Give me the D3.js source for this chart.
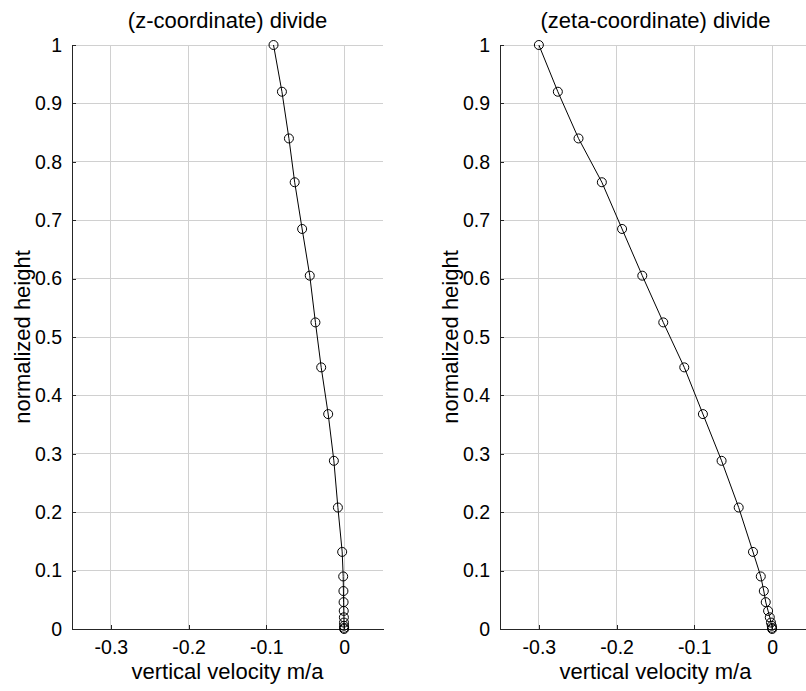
<!DOCTYPE html>
<html>
<head>
<meta charset="utf-8">
<script src="https://cdn.jsdelivr.net/npm/d3@7"></script>
<style>
  html, body { margin: 0; padding: 0; background: #fff; }
  svg { display: block; }
  text { font-family: "Liberation Sans", Arial, Helvetica, sans-serif; fill: #000; }
</style>
</head>
<body>
<svg id="chart" width="806" height="691"></svg>
<script>
// Normalized heights of the layer nodes (shared by both profiles)
const heights = [1, 0.92, 0.84, 0.765, 0.685, 0.605, 0.525, 0.448, 0.368, 0.288, 0.208,
                 0.132, 0.09, 0.065, 0.046, 0.031, 0.02, 0.011, 0.0055, 0.002, 0];
// Vertical velocity (m/a) at each node, z-coordinate divide
const zVelocity = [-0.0908, -0.080, -0.071, -0.0636, -0.054, -0.0442, -0.0369, -0.0295,
                   -0.0205, -0.0132, -0.008, -0.0025, -0.0012, -0.0009, -0.0007, -0.0005,
                   -0.0003, -0.0002, -0.0001, 0, 0];
// Vertical velocity (m/a) at each node, zeta-coordinate divide
const zetaVelocity = [-0.300, -0.2756, -0.249, -0.219, -0.193, -0.167, -0.140, -0.113,
                      -0.089, -0.065, -0.043, -0.0246, -0.0146, -0.0107, -0.0082, -0.0052,
                      -0.003, -0.0015, -0.0005, -0.0001, 0];

const xTicks = [-0.3, -0.2, -0.1, 0];
const yTicks = [0, 0.1, 0.2, 0.3, 0.4, 0.5, 0.6, 0.7, 0.8, 0.9, 1];
const xDomain = [-0.35, 0.05];
const yDomain = [0, 1];

const panels = [
  { title: "(z-coordinate) divide", values: zVelocity, left: 72 },
  { title: "(zeta-coordinate) divide", values: zetaVelocity, left: 500 }
];

const svg = d3.select("#chart");
const plotW = 311, plotTop = 45, plotBottom = 629;
const gridColor = "#d0d0d0", axisColor = "#262626";
const tickFont = 19.5, labelFont = 22;

panels.forEach(p => {
  const x = d3.scaleLinear().domain(xDomain).range([p.left, p.left + plotW]);
  const y = d3.scaleLinear().domain(yDomain).range([plotBottom, plotTop]);
  const g = svg.append("g");

  // grid
  g.append("g").selectAll("line").data(xTicks).join("line")
    .attr("x1", d => x(d)).attr("x2", d => x(d))
    .attr("y1", plotTop).attr("y2", plotBottom)
    .attr("stroke", gridColor).attr("stroke-width", 1).attr("shape-rendering", "crispEdges");
  g.append("g").selectAll("line").data(yTicks).join("line")
    .attr("x1", p.left).attr("x2", p.left + plotW)
    .attr("y1", d => y(d)).attr("y2", d => y(d))
    .attr("stroke", gridColor).attr("stroke-width", 1).attr("shape-rendering", "crispEdges");

  // axes
  const xAxis = d3.axisBottom(x).tickValues(xTicks).tickSizeInner(-4).tickSizeOuter(0)
    .tickPadding(11).tickFormat(d => d === 0 ? "0" : d3.format(".1f")(d).replace("−", "-"));
  const yAxis = d3.axisLeft(y).tickValues(yTicks).tickSizeInner(-4).tickSizeOuter(0)
    .tickPadding(10).tickFormat(d => d === 0 ? "0" : d === 1 ? "1" : d3.format(".1f")(d));

  const gx = g.append("g").attr("transform", `translate(0,${plotBottom})`).call(xAxis);
  const gy = g.append("g").attr("transform", `translate(${p.left},0)`).call(yAxis);
  [gx, gy].forEach(ax => {
    ax.select(".domain").attr("stroke", axisColor).attr("shape-rendering", "crispEdges");
    ax.selectAll(".tick line").attr("stroke", axisColor).attr("shape-rendering", "crispEdges");
    ax.selectAll(".tick text").style("font-size", tickFont + "px")
      .style("font-family", '"Liberation Sans", Arial, sans-serif').attr("fill", "#000");
  });

  // profile line and node markers
  const pts = p.values.map((v, i) => [v, heights[i]]);
  g.append("path").datum(pts)
    .attr("d", d3.line().x(d => x(d[0])).y(d => y(d[1])))
    .attr("fill", "none").attr("stroke", "#000").attr("stroke-width", 1);
  g.append("g").selectAll("circle").data(pts).join("circle")
    .attr("cx", d => x(d[0])).attr("cy", d => y(d[1])).attr("r", 4.5)
    .attr("fill", "none").attr("stroke", "#000").attr("stroke-width", 1);

  // titles and labels
  const cx = p.left + plotW / 2;
  g.append("text").attr("x", cx).attr("y", 28).attr("text-anchor", "middle")
    .style("font-size", labelFont + "px").text(p.title);
  g.append("text").attr("x", cx).attr("y", 679).attr("text-anchor", "middle")
    .style("font-size", labelFont + "px").text("vertical velocity m/a");
  g.append("text")
    .attr("transform", `translate(${p.left - 42},${(plotTop + plotBottom) / 2}) rotate(-90)`)
    .attr("text-anchor", "middle")
    .style("font-size", labelFont + "px").text("normalized height");
});
</script>
</body>
</html>
